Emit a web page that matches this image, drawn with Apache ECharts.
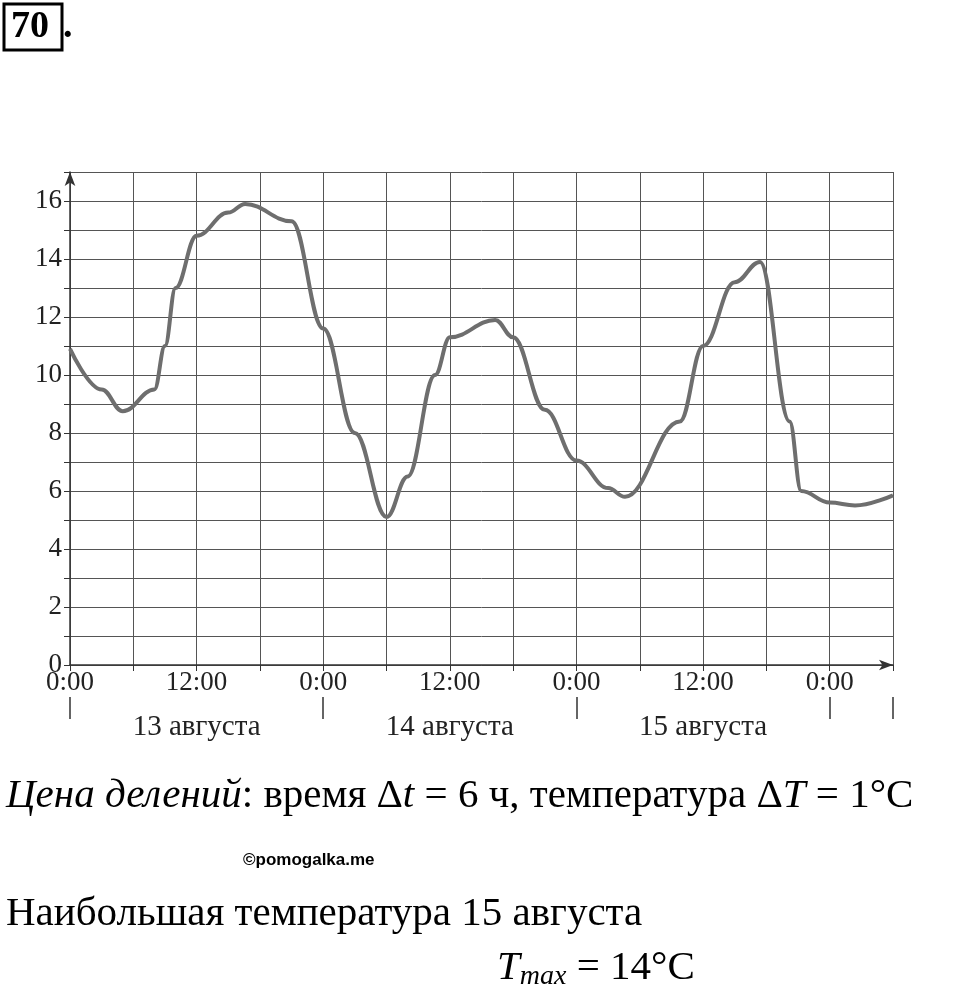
<!DOCTYPE html>
<html><head><meta charset="utf-8">
<script src="https://cdn.jsdelivr.net/npm/echarts@6/dist/echarts.min.js"></script>
<style>html,body{margin:0;padding:0;background:#fff}#c{width:960px;height:999px}</style>
</head><body><div id="c"></div>
<script>
const hours = [0,3,5,8,9,10,12,15,16.6,21,24,27,30,32,34.6,36,40.3,42,45,48,51,52.6,57.8,60,63,65.4,68.2,69.3,72,74.4,78];
const temps = [10.9,9.5,8.75,9.5,11,13,14.8,15.6,15.9,15.3,11.6,8,5.1,6.5,10,11.3,11.9,11.3,8.8,7.05,6.1,5.8,8.4,11,13.2,13.9,8.4,6,5.6,5.5,5.85];
const dayLabels = {12:'13 августа',36:'14 августа',60:'15 августа'};
const timeLabels = {0:'0:00',12:'12:00',24:'0:00',36:'12:00',48:'0:00',60:'12:00',72:'0:00'};
const serif = '"Liberation Serif","DejaVu Serif",serif';
const chart = echarts.init(document.getElementById('c'));
const gridLine = {show:true,lineStyle:{color:'#555',width:1}};
chart.setOption({
  animation:false,
  grid:{left:70,right:67,top:172,bottom:334},
  xAxis:[
    {type:'value',min:0,max:78,interval:6,
     axisLine:{lineStyle:{color:'#333',width:1.5},symbol:['none','arrow'],symbolSize:[8,14]},
     axisTick:{show:true,inside:false,length:6,lineStyle:{color:'#333'}},
     splitLine:gridLine,
     axisLabel:{color:'#222',fontFamily:serif,fontSize:27,margin:4,formatter:v=>timeLabels[v]||''}},
    {type:'value',min:0,max:78,interval:12,position:'bottom',offset:40,
     axisLine:{show:false},axisTick:{show:false},splitLine:{show:false},
     axisLabel:{color:'#222',fontFamily:serif,fontSize:29,formatter:v=>dayLabels[v]||''}},
    {type:'value',min:0,max:78,interval:24,position:'bottom',offset:54,
     axisLine:{show:false},splitLine:{show:false},axisLabel:{show:false},
     axisTick:{show:true,length:-22,lineStyle:{color:'#333',width:1.5}}}
  ],
  yAxis:{type:'value',min:0,max:17,interval:1,
     axisLine:{show:true,lineStyle:{color:'#333',width:1.5},symbol:['none','arrow'],symbolSize:[8,14]},
     axisTick:{show:true,length:6,lineStyle:{color:'#333'}},
     splitLine:gridLine,
     axisLabel:{color:'#222',fontFamily:serif,fontSize:27,margin:8,formatter:v=>v%2===0?String(v):''}},
  series:[{type:'line',smooth:0.4,smoothMonotone:'x',showSymbol:false,data:hours.map((h,i)=>[h,temps[i]]),
     lineStyle:{color:'#6e6e6e',width:4}}],
  graphic:[
    {type:'rect',shape:{x:4,y:4,width:58,height:46},style:{fill:'none',stroke:'#000',lineWidth:3}},
    {type:'text',left:11,top:8,style:{text:'70',font:'bold 38px '+serif,fill:'#000'}},
    {type:'text',left:63,top:8,style:{text:'.',font:'bold 38px '+serif,fill:'#000'}},
    {type:'text',left:6,top:776,style:{rich:{i:{fontFamily:serif,fontStyle:'italic',fontSize:41,fill:'#000'},n:{fontFamily:serif,fontSize:41,fill:'#000'}},
      text:'{i|Цена делений}{n|: время Δ}{i|t}{n| = 6 ч, температура Δ}{i|T}{n| = 1°C}'}},
    {type:'text',left:243,top:852,style:{text:'©pomogalka.me',font:'bold 17px "Liberation Sans",Arial,sans-serif',fill:'#000'}},
    {type:'text',left:6,top:894,style:{text:'Наибольшая температура 15 августа',font:'41px '+serif,fill:'#000'}},
    {type:'text',left:497,top:948,style:{rich:{i:{fontFamily:serif,fontStyle:'italic',fontSize:41,fill:'#000'},s:{fontFamily:serif,fontStyle:'italic',fontSize:28,fill:'#000',padding:[16,0,0,0]},n:{fontFamily:serif,fontSize:41,fill:'#000'}},
      text:'{i|T}{s|max}{n| = 14°C}'}}
  ]
});
</script></body></html>
